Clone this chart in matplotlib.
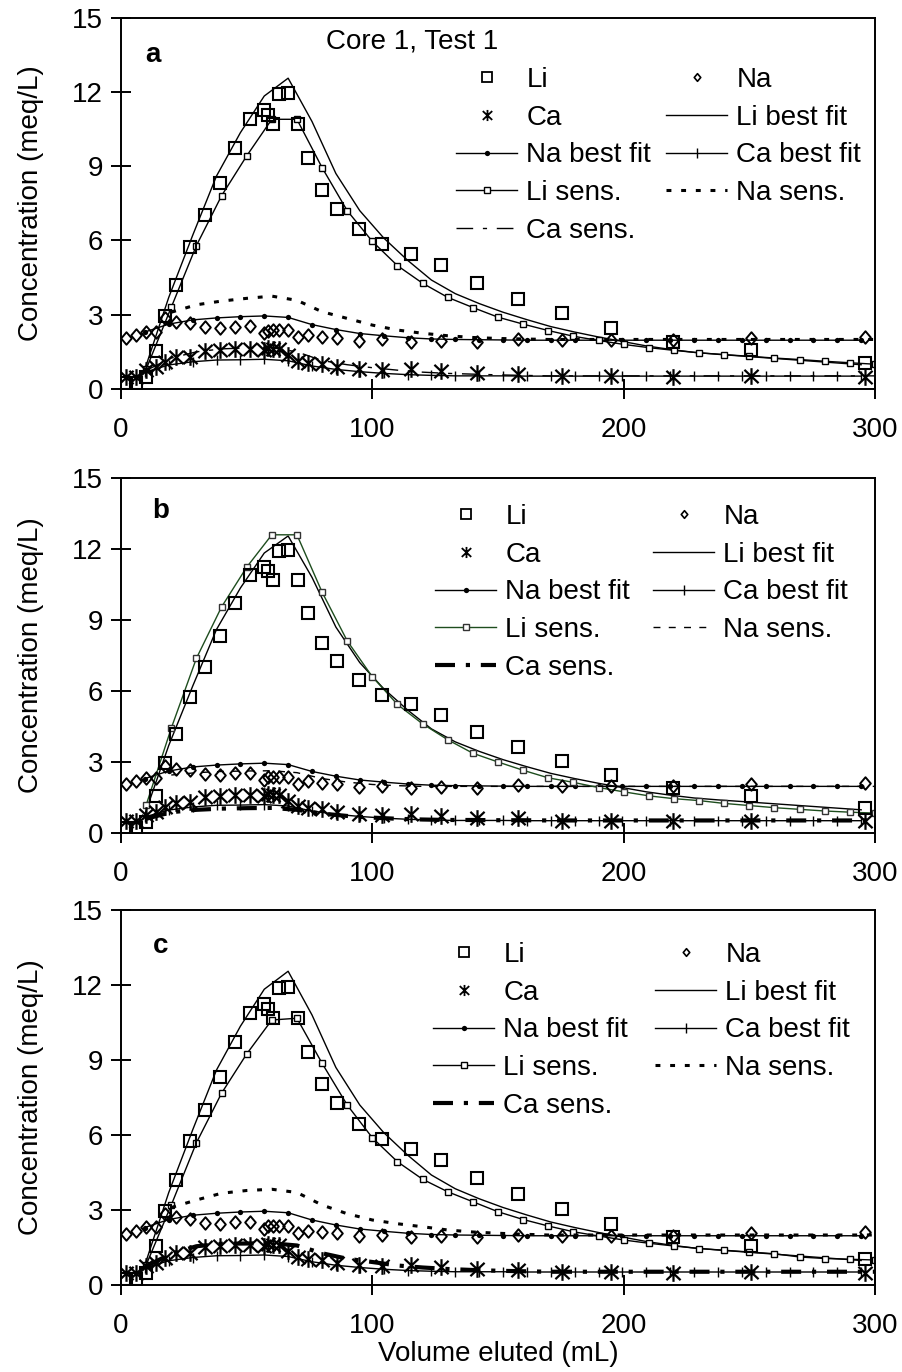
import matplotlib
matplotlib.use('Agg')
import matplotlib.pyplot as plt
from matplotlib.lines import Line2D
from matplotlib.path import Path

plt.rcParams['font.family'] = ['Liberation Sans', 'DejaVu Sans']
FS = 20

# ---------------- observed data (same for all three panels) ----------------
vol_obs = [2, 6, 10, 14, 17.5, 22, 27.5, 33.5, 39.5, 45.5, 51.5, 57, 58.5, 60.5, 63,
           66.5, 70.5, 74.5, 80, 86, 94.5, 104, 115.5, 127.5, 141.5, 158, 175.5, 195,
           219.5, 250.5, 296]
li_obs = [0.23, 0.23, 0.47, 1.55, 2.95, 4.2, 5.75, 7.02, 8.33, 9.72, 10.9, 11.26, 11.06,
          10.68, 11.9, 11.94, 10.68, 9.31, 8.03, 7.28, 6.46, 5.84, 5.46, 5.0, 4.27, 3.65,
          3.05, 2.45, 1.91, 1.57, 1.04]
na_obs = [2.05, 2.18, 2.31, 2.31, 2.85, 2.72, 2.65, 2.49, 2.45, 2.52, 2.54, 2.25, 2.36,
          2.38, 2.38, 2.38, 2.09, 2.18, 2.11, 2.07, 1.95, 2.0, 1.91, 1.95, 1.91, 2.02,
          1.97, 1.97, 1.97, 2.07, 2.11]
ca_obs = [0.5, 0.5, 0.75, 0.9, 1.1, 1.28, 1.3, 1.53, 1.57, 1.6, 1.6, 1.57, 1.64, 1.6,
          1.62, 1.37, 1.14, 1.04, 1.0, 0.9, 0.8, 0.78, 0.8, 0.72, 0.63, 0.62, 0.52, 0.52,
          0.5, 0.52, 0.5]

# ---------------- best fit model (same for all three panels) ----------------
vol_fit = [9.5, 19, 28.5, 38, 47.5, 57, 66.5, 76, 85.5, 95, 104.5, 114, 123.5, 133,
           142.5, 152, 161.5, 171, 180.5, 190, 199.5, 209, 218.5, 228, 237.5, 247,
           256.5, 266, 275.5, 285, 294.5]
li_fit = [0.8, 3.7, 6.2, 8.6, 10.35, 11.83, 12.55, 10.8, 8.7, 7.2, 6.1, 5.2, 4.4, 3.85,
          3.45, 3.1, 2.8, 2.52, 2.3, 2.1, 1.92, 1.74, 1.6, 1.48, 1.4, 1.33, 1.26, 1.19,
          1.12, 1.05, 0.98]
na_fit = [2.3, 2.62, 2.79, 2.87, 2.92, 2.95, 2.89, 2.6, 2.4, 2.24, 2.15, 2.07, 2.02, 2.0,
          1.99, 1.98, 1.97, 1.97, 1.97, 1.97, 1.97, 1.97, 1.97, 1.97, 1.97, 1.97, 1.97,
          1.97, 1.97, 1.97, 1.97]
ca_fit = [0.68, 0.97, 1.1, 1.17, 1.18, 1.2, 1.14, 0.93, 0.79, 0.7, 0.63, 0.58, 0.55,
          0.53, 0.53, 0.53, 0.52, 0.52, 0.52, 0.52, 0.52, 0.52, 0.52, 0.52, 0.52, 0.52,
          0.52, 0.52, 0.52, 0.52, 0.52]

# ---------------- sensitivity runs ----------------
vol_sens = [10, 20, 30, 40, 50, 60, 70, 80, 90, 100, 110, 120, 130, 140, 150, 160, 170,
            180, 190, 200, 210, 220, 230, 240, 250, 260, 270, 280, 290, 300]
li_sens_a = [0.8, 3.3, 5.79, 7.8, 9.41, 10.89, 10.89, 8.94, 7.2, 5.96, 4.98, 4.27, 3.7,
             3.29, 2.9, 2.62, 2.36, 2.13, 1.96, 1.8, 1.67, 1.56, 1.46, 1.39, 1.32, 1.25,
             1.19, 1.12, 1.06, 1.0]
li_sens_b = [1.18, 4.43, 7.38, 9.55, 11.23, 12.6, 12.6, 10.18, 8.12, 6.6, 5.43, 4.61,
             3.94, 3.37, 3.0, 2.65, 2.33, 2.14, 1.92, 1.74, 1.57, 1.45, 1.37, 1.25, 1.16,
             1.07, 1.0, 0.93, 0.88, 0.84]
li_sens_c = [0.8, 3.2, 5.69, 7.67, 9.24, 10.6, 10.67, 8.87, 7.2, 5.89, 4.93, 4.23, 3.73,
             3.33, 2.93, 2.62, 2.36, 2.13, 1.96, 1.8, 1.67, 1.56, 1.46, 1.39, 1.32, 1.25,
             1.12, 1.06, 1.03, 1.0]
vol_na_sens = [20, 30, 40, 50, 60, 70, 80, 90, 100, 110, 120, 130, 140, 150, 160, 170,
               180, 190, 200, 210, 220, 230, 240, 250, 260, 270, 280, 290, 300]
na_sens_a = [3.1, 3.4, 3.55, 3.66, 3.75, 3.58, 3.12, 2.85, 2.58, 2.38, 2.25, 2.15, 2.08,
             2.04, 2.02, 2.0, 2.0, 2.0, 2.0, 2.0, 2.0, 2.0, 2.0, 2.0, 2.0, 2.0, 2.0, 2.0,
             2.0]
na_sens_b = [2.45, 2.55, 2.6, 2.62, 2.63, 2.55, 2.3, 2.15, 2.05, 2.0, 1.97, 1.97, 1.97,
             1.97, 1.97, 1.97, 1.97, 1.97, 1.97, 1.97, 1.97, 1.97, 1.97, 1.97, 1.97, 1.97,
             1.97, 1.97, 1.97]
na_sens_c = [3.1, 3.4, 3.67, 3.78, 3.83, 3.7, 3.2, 2.85, 2.6, 2.45, 2.33, 2.2, 2.12, 2.07,
             2.03, 2.0, 2.0, 2.0, 2.0, 2.0, 2.0, 2.0, 2.0, 2.0, 2.0, 2.0, 2.0, 2.0, 2.0]
ca_sens_a = [0.75, 1.25, 1.5, 1.62, 1.66, 1.67, 1.5, 1.15, 0.98, 0.86, 0.76, 0.68, 0.63,
             0.6, 0.57, 0.55, 0.53, 0.53, 0.53, 0.53, 0.53, 0.53, 0.53, 0.53, 0.53, 0.53,
             0.53, 0.53, 0.53, 0.53]
ca_sens_b = [0.6, 0.88, 0.98, 1.03, 1.05, 1.06, 0.98, 0.82, 0.72, 0.65, 0.6, 0.57, 0.55,
             0.55, 0.54, 0.54, 0.53, 0.53, 0.53, 0.53, 0.53, 0.53, 0.53, 0.53, 0.53, 0.53,
             0.53, 0.53, 0.53, 0.53]
ca_sens_c = [0.75, 1.25, 1.55, 1.65, 1.66, 1.67, 1.58, 1.27, 1.05, 0.92, 0.78, 0.7, 0.64,
             0.6, 0.57, 0.55, 0.53, 0.53, 0.53, 0.53, 0.53, 0.53, 0.53, 0.53, 0.53, 0.53,
             0.53, 0.53, 0.53, 0.53]

x_ticks = [0, 100, 200, 300]
y_ticks = [0, 3, 6, 9, 12, 15]
panel_letters = ['a', 'b', 'c']

# ---------------- layout (pixels) ----------------
W, H = 903, 1372
def fx(px):
    return px / W
def fy(py):
    return 1 - py / H

X0, X1 = 121, 875
panels = [
    dict(top=17.5, bottom=389, letter_xy=(145, 61.7), leg_xy=(456, 67), colsp=0.54,
         li_sens=li_sens_a, na_sens=na_sens_a, ca_sens=ca_sens_a, li_col='black',
         na_ls=(0, (1.6, 3.2)), na_lw=2.2, ca_ls=(0, (12, 7, 3, 7)), ca_lw=1.0),
    dict(top=478, bottom=833, letter_xy=(152, 518), leg_xy=(435, 504), colsp=0.83,
         li_sens=li_sens_b, na_sens=na_sens_b, ca_sens=ca_sens_b, li_col='#1e4d1e',
         na_ls=(0, (5, 6)), na_lw=1.0, ca_ls=(0, (4.8, 2.6, 1, 2.6)), ca_lw=3.0),
    dict(top=910, bottom=1285, letter_xy=(153, 953), leg_xy=(433, 942), colsp=0.97,
         li_sens=li_sens_c, na_sens=na_sens_c, ca_sens=ca_sens_c, li_col='black',
         na_ls=(0, (1.6, 3.2)), na_lw=2.2, ca_ls=(0, (4.8, 2.6, 1, 2.6)), ca_lw=3.0),
]

star = Path([(0, -1), (0, 1), (-0.85, -0.8), (0.85, 0.8), (-0.85, 0.8), (0.85, -0.8)],
            [Path.MOVETO, Path.LINETO, Path.MOVETO, Path.LINETO, Path.MOVETO, Path.LINETO])
diamond = Path([(0, -1), (0.85, 0), (0, 1), (-0.85, 0), (0, -1)],
               [Path.MOVETO, Path.LINETO, Path.LINETO, Path.LINETO, Path.CLOSEPOLY])

fig = plt.figure(figsize=(W / 100, H / 100), dpi=100)

LW = 1.0
for i, p in enumerate(panels):
    ax = fig.add_axes([fx(X0), fy(p['bottom']), fx(X1) - fx(X0),
                       (p['bottom'] - p['top']) / H])
    sens_mec = 'black' if p['li_col'] == 'black' else '#333333'
    # model lines
    ax.plot(vol_fit, li_fit, color='black', lw=LW)
    ax.plot(vol_fit, na_fit, color='black', lw=LW, marker='o', ms=3.8, mew=0)
    ax.plot(vol_fit, ca_fit, color='black', lw=LW, marker='|', ms=6.5, mew=1.0)
    ax.plot(vol_sens, p['li_sens'], color=p['li_col'], lw=LW, marker='s', ms=3.8,
            mfc='white', mec=sens_mec, mew=1.0)
    ax.plot(vol_na_sens, p['na_sens'], color='black', lw=p['na_lw'], ls=p['na_ls'])
    ax.plot(vol_sens, p['ca_sens'], color='black', lw=p['ca_lw'], ls=p['ca_ls'])
    # observations
    ax.plot(vol_obs, li_obs, ls='none', marker='s', ms=9, mfc='none', mec='black', mew=1.5)
    ax.plot(vol_obs, na_obs, ls='none', marker=diamond, ms=9, mfc='none', mec='black', mew=1.4)
    ax.plot(vol_obs, ca_obs, ls='none', marker=star, ms=12, mfc='none', mec='black', mew=1.6)

    ax.set_xlim(0, 300)
    ax.set_ylim(0, 15)
    ax.set_xticks(x_ticks)
    ax.set_yticks(y_ticks)
    ax.tick_params(axis='both', direction='inout', length=14, width=1.4,
                   labelsize=FS, right=False, top=False)
    ax.tick_params(axis='x', pad=13)
    ax.tick_params(axis='y', pad=6)
    for s in ax.spines.values():
        s.set_linewidth(1.4)
    ax.set_ylabel('Concentration (meq/L)', fontsize=FS)
    ax.yaxis.set_label_coords((44 - X0) / (X1 - X0), 0.5)
    if i == 2:
        ax.set_xlabel('Volume eluted (mL)', fontsize=FS, va='top')
        ax.xaxis.set_label_coords(0.5, -(1341 - p['bottom']) / (p['bottom'] - p['top']))

    fig.text(fx(p['letter_xy'][0]), fy(p['letter_xy'][1]), panel_letters[i],
             fontsize=FS, fontweight='bold', ha='left', va='baseline')

    h_li = Line2D([], [], ls='none', marker='s', ms=6.5, mfc='none', mec='black', mew=1.3)
    h_na = Line2D([], [], ls='none', marker=diamond, ms=5.5, mfc='none', mec='black', mew=1.2)
    h_ca = Line2D([], [], ls='none', marker=star, ms=8, mfc='none', mec='black', mew=1.3)
    h_lif = Line2D([], [], color='black', lw=LW)
    h_naf = Line2D([], [], color='black', lw=LW, marker='o', ms=3.8, mew=0)
    h_caf = Line2D([], [], color='black', lw=LW, marker='|', ms=6.5, mew=1.0)
    h_lis = Line2D([], [], color=p['li_col'], lw=LW, marker='s', ms=3.8, mfc='white',
                   mec=sens_mec, mew=1.0)
    h_nas = Line2D([], [], color='black', lw=p['na_lw'], ls=p['na_ls'])
    h_cas = Line2D([], [], color='black', lw=p['ca_lw'], ls=p['ca_ls'])
    handles = [h_li, h_ca, h_naf, h_lis, h_cas, h_na, h_lif, h_caf, h_nas]
    labels = ['Li', 'Ca', 'Na best fit', 'Li sens.', 'Ca sens.',
              'Na', 'Li best fit', 'Ca best fit', 'Na sens.']
    fig.legend(handles, labels, loc='upper left',
               bbox_to_anchor=(fx(p['leg_xy'][0]), fy(p['leg_xy'][1])),
               bbox_transform=fig.transFigure, ncol=2, frameon=False, fontsize=FS,
               borderpad=0, borderaxespad=0, handlelength=2.2, handletextpad=0.33,
               columnspacing=p['colsp'], labelspacing=0.42)

fig.text(fx(326), fy(48), 'Core 1, Test 1', fontsize=FS, ha='left', va='baseline')

fig.savefig('out.png', dpi=100)
